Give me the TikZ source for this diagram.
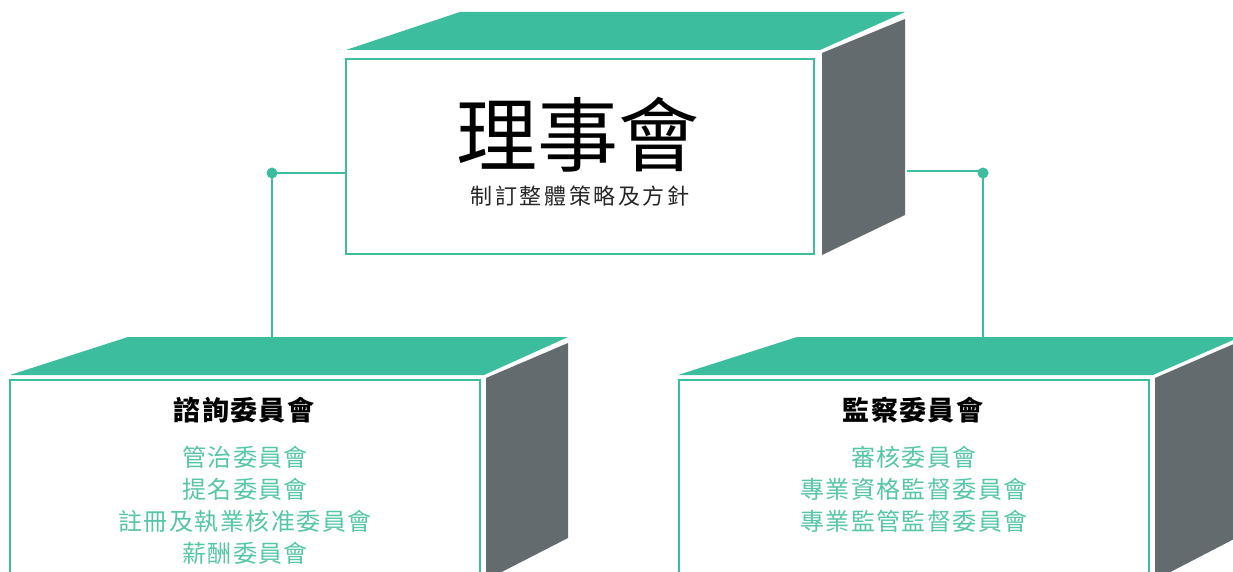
\documentclass[tikz,border=0pt]{standalone}
\usepackage{fontspec}
\newfontfamily\cjk{Noto Sans CJK TC}
\definecolor{tealc}{HTML}{3BBD9E}
\definecolor{sidec}{HTML}{646B6E}
\definecolor{subc}{HTML}{56C5A8}
\begin{document}
\begin{tikzpicture}[x=1pt,y=-1pt,
  topface/.style={fill=tealc,draw=none},
  sideface/.style={fill=sidec,draw=none},
  frontbox/.style={draw=tealc,line width=2.5pt,fill=white,inner sep=0pt},
  conn/.style={draw=tealc,line width=2.5pt},
  dotc/.style={circle,fill=tealc,inner sep=0pt,minimum size=11pt},
  titletxt/.style={font=\cjk\fontsize{81}{81}\selectfont,text=black},
  subtxt/.style={font=\cjk\addfontfeatures{LetterSpace=12}\fontsize{22}{26}\selectfont,text=black!85},
  headtxt/.style={font=\cjk\bfseries\addfontfeatures{LetterSpace=5}\fontsize{27}{32}\selectfont,text=black},
  itemtxt/.style={font=\cjk\addfontfeatures{LetterSpace=6}\fontsize{24}{32}\selectfont,text=subc,align=center}
]
\useasboundingbox (0,0) rectangle (1233,572);

% top box
\fill[topface] (346,50) -- (460,12) -- (905,12) -- (820,50) -- cycle;
\fill[sideface] (822,53) -- (905,19) -- (905,215) -- (822,255) -- cycle;
\node[frontbox,minimum width=468pt,minimum height=195pt] (topbox) at (580,156.5) {};
\node[titletxt] (title) at (578,135) {理事會};
\node[subtxt] (subtitle) at (580,196) {制訂整體策略及方針};

% left box
\fill[topface] (10,375) -- (128,337) -- (568,337) -- (484,375) -- cycle;
\fill[sideface] (486,378) -- (568,343) -- (568,538) -- (486,580) -- cycle;
\node[frontbox,minimum width=470pt,minimum height=220pt] (leftbox) at (245,490) {};
\node[headtxt] (lefthead) at (244,410) {諮詢委員會};
\node[itemtxt] (leftitems) at (245,505) {管治委員會\\提名委員會\\註冊及執業核准委員會\\薪酬委員會};

% right box
\fill[topface] (678,375) -- (797,337) -- (1240,337) -- (1153,375) -- cycle;
\fill[sideface] (1155,378) -- (1236,343) -- (1236,538) -- (1155,580) -- cycle;
\node[frontbox,minimum width=470pt,minimum height=220pt] (rightbox) at (914,490) {};
\node[headtxt] (righthead) at (913,410) {監察委員會};
\node[itemtxt] (rightitems) at (914,489) {審核委員會\\專業資格監督委員會\\專業監管監督委員會};

% connectors
\node[dotc] (dotl) at (272,173) {};
\node[dotc] (dotr) at (983,173) {};
\coordinate (ltop) at (272,337);
\coordinate (rtop) at (983,337);
\coordinate (rstart) at (907,171);
\draw[conn] (topbox.west |- dotl) -- (dotl.center) -- (ltop);
\draw[conn] (rstart) -- (dotr.center |- rstart) -- (dotr.center) -- (rtop);
\end{tikzpicture}
\end{document}
